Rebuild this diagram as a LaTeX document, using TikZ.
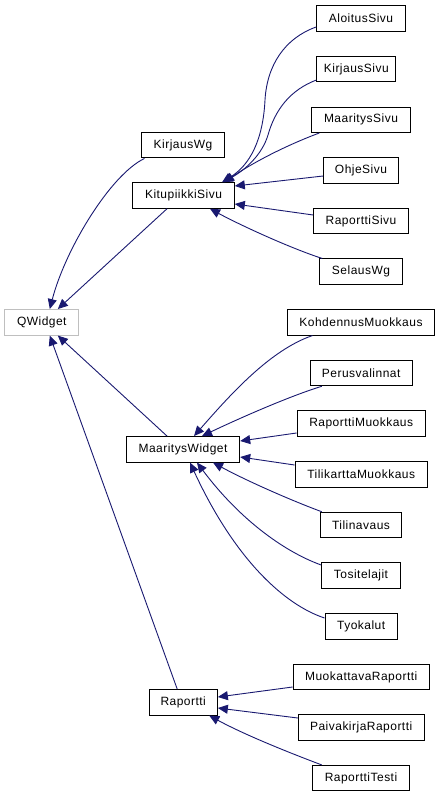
\documentclass[tikz,border=0pt]{standalone}
\usepackage{fontspec}
\setmainfont{Liberation Sans}[LetterSpace=4]
\usetikzlibrary{arrows.meta}
\definecolor{edgeblue}{HTML}{191970}
\definecolor{graybox}{HTML}{BFBFBF}
\tikzset{
  cls/.style={draw=black, line width=1pt, fill=white, minimum height=25.5pt, inner sep=0pt, font=\fontsize{12}{13}\selectfont},
  ext/.style={cls, draw=graybox},
  edge/.style={draw=edgeblue, line width=0.9pt, -{Triangle[length=10pt,width=9pt]}, fill=none},
}
\begin{document}
\begin{tikzpicture}[x=1pt,y=-1pt]
\useasboundingbox (0,0) rectangle (440,797);
% nodes
\node[cls, minimum width=88.6pt]  (Aloitus)   at (361,18.5)  {AloitusSivu};
\node[cls, minimum width=78.7pt]  (KirjSivu)  at (356.3,69.2) {KirjausSivu};
\node[cls, minimum width=98.6pt]  (MaarSivu)  at (361,119.8) {MaaritysSivu};
\node[cls, minimum width=74.6pt]  (Ohje)      at (361,170.3) {OhjeSivu};
\node[cls, minimum width=82.6pt]  (KirjWg)    at (183,145.2) {KirjausWg};
\node[cls, minimum width=101.6pt] (Kitu)      at (183.5,195.5) {KitupiikkiSivu};
\node[cls, minimum width=94.6pt]  (RapSivu)   at (361,221)   {RaporttiSivu};
\node[cls, minimum width=82.6pt]  (Selaus)    at (361,271.7) {SelausWg};
\node[ext, minimum width=73.7pt]  (QWidget)   at (41.8,322.3) {QWidget};
\node[cls, minimum width=147.4pt] (Kohd)      at (361,322.3) {KohdennusMuokkaus};
\node[cls, minimum width=101.7pt] (Perus)     at (361.2,373) {Perusvalinnat};
\node[cls, minimum width=128.3pt] (RapMuok)   at (361.2,423.7) {RaporttiMuokkaus};
\node[cls, minimum width=113.4pt] (MaarWid)   at (183,449.3) {MaaritysWidget};
\node[cls, minimum width=132.3pt] (Tili)      at (361.2,474.5) {TilikarttaMuokkaus};
\node[cls, minimum width=81.4pt]  (Tilin)     at (361,525)   {Tilinavaus};
\node[cls, minimum width=78.6pt]  (Tosite)    at (361,575.7) {Tositelajit};
\node[cls, minimum width=72.3pt]  (Tyok)      at (361.2,626.5) {Tyokalut};
\node[cls, minimum width=136.3pt] (Muok)      at (361.2,677.2) {MuokattavaRaportti};
\node[cls, minimum width=68.3pt]  (Rap)       at (183.2,702.3) {Raportti};
\node[cls, minimum width=125.7pt] (Paiva)     at (361.2,727.7) {PaivakirjaRaportti};
\node[cls, minimum width=97.4pt]  (RapTesti)  at (361,778.2) {RaporttiTesti};
% edges to KitupiikkiSivu
\draw[edge] ([yshift=-8.5pt]Aloitus.west) .. controls (285,38) and (267,65) .. (265,100)
  .. controls (263,140) and (250,165) .. ([xshift=38.5pt]Kitu.north);
\draw[edge] ([yshift=-10.8pt]KirjSivu.west) .. controls (290,90) and (275,110) .. (268,135)
  .. controls (262,155) and (245,170) .. ([xshift=39.5pt]Kitu.north);
\draw[edge] ([xshift=8pt]MaarSivu.south west) .. controls (295,142) and (260,158) .. ([xshift=40.5pt]Kitu.north);
\draw[edge] ([yshift=-5.7pt]Ohje.west) -- ([yshift=9.5pt]Kitu.east);
\draw[edge] ([yshift=6pt]RapSivu.west) -- ([yshift=-8.5pt]Kitu.east);
\draw[edge] ([xshift=3pt]Selaus.north west) .. controls (290,248) and (240,225) .. ([xshift=26.5pt]Kitu.south);
% edges to QWidget
\draw[edge] ([xshift=3.3pt]KirjWg.south west) .. controls (110,175) and (65,250) .. ([xshift=8pt]QWidget.north);
\draw[edge] ([xshift=-16.5pt]Kitu.south) -- ([xshift=16pt]QWidget.north);
\draw[edge] ([xshift=-16pt]MaarWid.north) -- ([xshift=16pt]QWidget.south);
\draw[edge] ([xshift=-6pt]Rap.north) -- ([xshift=8pt]QWidget.south);
% edges to MaaritysWidget
\draw[edge] ([xshift=25.7pt]Kohd.south west) .. controls (270,350) and (230,395) .. ([xshift=11pt]MaarWid.north);
\draw[edge] ([xshift=12pt]Perus.south west) .. controls (290,396) and (240,418) .. ([xshift=19pt]MaarWid.north);
\draw[edge] ([yshift=-9.3pt]RapMuok.west) -- ([yshift=8.3pt]MaarWid.east);
\draw[edge] ([yshift=9.5pt]Tili.west) -- ([yshift=-7.7pt]MaarWid.east);
\draw[edge] ([xshift=2pt]Tilin.north west) .. controls (290,500) and (245,480) .. ([xshift=30pt]MaarWid.south);
\draw[edge] ([yshift=10.7pt]Tosite.west) .. controls (285,552) and (240,520) .. ([xshift=14pt]MaarWid.south);
\draw[edge] ([yshift=8.5pt]Tyok.west) .. controls (285,605) and (235,560) .. ([xshift=7pt]MaarWid.south);
% edges to Raportti
\draw[edge] ([yshift=-9.8pt]Muok.west) -- ([yshift=5.3pt]Rap.east);
\draw[edge] ([yshift=9.7pt]Paiva.west) -- ([yshift=-5.7pt]Rap.east);
\draw[edge] ([xshift=10pt]RapTesti.north west) .. controls (290,753) and (245,735) .. ([xshift=26pt]Rap.south);
\end{tikzpicture}
\end{document}
